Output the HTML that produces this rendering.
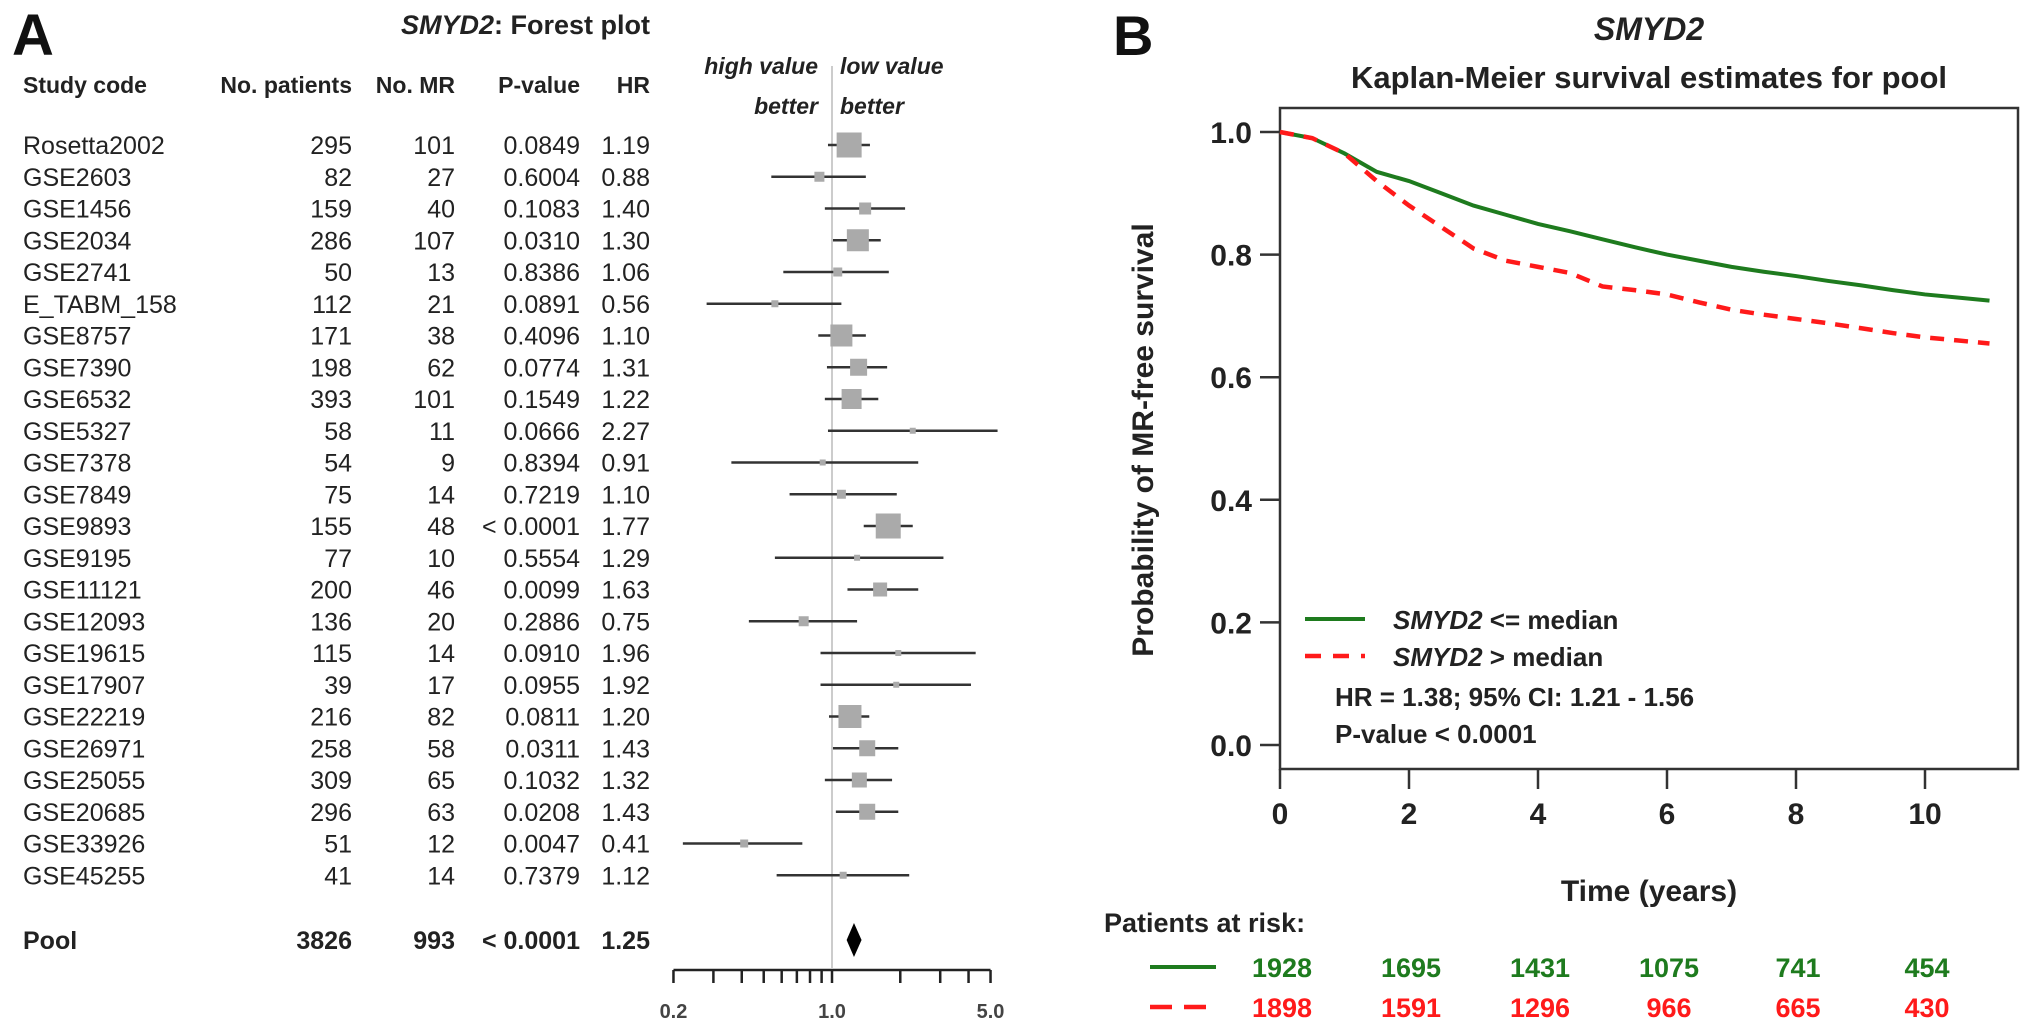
<!DOCTYPE html>
<html><head><meta charset="utf-8"><style>
html,body{margin:0;padding:0;background:#fff}
svg{display:block;font-family:"Liberation Sans",Arial,sans-serif}
</style></head><body>
<svg id="fig" width="2031" height="1031" viewBox="0 0 2031 1031" xmlns="http://www.w3.org/2000/svg">
<g id="forest"></g>
<g id="km"></g>
</svg>
<script>
// ---------- Forest plot data ----------
const studies = ["Rosetta2002","GSE2603","GSE1456","GSE2034","GSE2741","E_TABM_158","GSE8757","GSE7390","GSE6532","GSE5327","GSE7378","GSE7849","GSE9893","GSE9195","GSE11121","GSE12093","GSE19615","GSE17907","GSE22219","GSE26971","GSE25055","GSE20685","GSE33926","GSE45255"];
const nPatients = [295,82,159,286,50,112,171,198,393,58,54,75,155,77,200,136,115,39,216,258,309,296,51,41];
const nMR = [101,27,40,107,13,21,38,62,101,11,9,14,48,10,46,20,14,17,82,58,65,63,12,14];
const pValues = ["0.0849","0.6004","0.1083","0.0310","0.8386","0.0891","0.4096","0.0774","0.1549","0.0666","0.8394","0.7219","< 0.0001","0.5554","0.0099","0.2886","0.0910","0.0955","0.0811","0.0311","0.1032","0.0208","0.0047","0.7379"];
const hr = [1.19,0.88,1.40,1.30,1.06,0.56,1.10,1.31,1.22,2.27,0.91,1.10,1.77,1.29,1.63,0.75,1.96,1.92,1.20,1.43,1.32,1.43,0.41,1.12];
const ciLow = [0.96,0.54,0.93,1.01,0.61,0.28,0.87,0.95,0.93,0.96,0.36,0.65,1.38,0.56,1.17,0.43,0.89,0.89,0.97,1.01,0.93,1.04,0.22,0.57];
const ciHigh = [1.47,1.41,2.10,1.64,1.78,1.10,1.41,1.75,1.60,5.37,2.40,1.93,2.27,3.10,2.40,1.29,4.30,4.10,1.46,1.96,1.84,1.96,0.74,2.19];
const weights = [25,10,12,22,9,7,22,17,20,6,6,9,25,6,14,10,6,6,23,16,15,16,8,7];
const pool = {n:3826, mr:993, p:"< 0.0001", hr:1.25, lo:1.16, hi:1.35};
const forestTicks = [0.2,0.3,0.4,0.5,0.6,0.7,0.8,0.9,1,2,3,4,5];
const forestTickLabels = ["0.2","1.0","5.0"];
const forestLabelVals = [0.2,1,5];

// ---------- KM data ----------
const kmTimes = [0,0.5,1,1.5,2,2.5,3,3.5,4,4.5,5,5.5,6,6.5,7,7.5,8,8.5,9,9.5,10,10.5,11];
const kmLow = [1.0,0.99,0.965,0.935,0.92,0.90,0.88,0.865,0.85,0.838,0.825,0.812,0.80,0.79,0.78,0.772,0.765,0.757,0.75,0.742,0.735,0.73,0.725];
const kmHigh = [1.0,0.99,0.965,0.92,0.88,0.845,0.81,0.79,0.78,0.77,0.748,0.742,0.735,0.722,0.71,0.702,0.695,0.688,0.68,0.672,0.665,0.66,0.655];
const kmXTicks = [0,2,4,6,8,10];
const kmYTicks = [0,0.2,0.4,0.6,0.8,1.0];
const riskLow = [1928,1695,1431,1075,741,454];
const riskHigh = [1898,1591,1296,966,665,430];

const NS="http://www.w3.org/2000/svg";
function mk(parent,tag,attrs,text){const e=document.createElementNS(NS,tag);for(const k in attrs)e.setAttribute(k,attrs[k]);if(text!==undefined)e.textContent=text;parent.appendChild(e);return e;}

// ---------- Forest ----------
const F=document.getElementById('forest');
const fx=v=>832+Math.log(v)*98.5;
const rowY=i=>145+i*31.75;
let t;
t=mk(F,'text',{x:12,y:55,'font-size':58,'font-weight':'bold',fill:'#111'},'A');

t=mk(F,'text',{x:650,y:34,'font-size':27,'font-weight':'bold','text-anchor':'end',fill:'#222'});
t.innerHTML='<tspan font-style="italic">SMYD2</tspan>: Forest plot';

const heads=[["Study code",23,'start','header-study-code'],["No. patients",352,'end','header-no-patients'],["No. MR",455,'end','header-no-mr'],["P-value",580,'end','header-p-value'],["HR",650,'end','header-hr']];
heads.forEach(h=>{const e=mk(F,'text',{x:h[1],y:93,'font-size':23,'font-weight':'bold','text-anchor':h[2],fill:'#222'},h[0]);
});
[["high value",818,74,'end'],["better",818,114,'end'],["low value",840,74,'start'],["better",840,114,'start']].forEach(h=>{
const e=mk(F,'text',{x:h[1],y:h[2],'font-size':23,'font-weight':'bold','font-style':'italic','text-anchor':h[3],fill:'#222'},h[0]);
});
const refLine=mk(F,'line',{x1:fx(1),x2:fx(1),y1:66,y2:968,stroke:'#bbb','stroke-width':1.5});

const xMax=5.37;
studies.forEach((s,i)=>{
  const y=rowY(i);
  const g=mk(F,'g',{});
  
  
  mk(g,'text',{x:23,y:y+9,'font-size':25,fill:'#222'},s);
  mk(g,'text',{x:352,y:y+9,'font-size':25,fill:'#222','text-anchor':'end'},nPatients[i]);
  mk(g,'text',{x:455,y:y+9,'font-size':25,fill:'#222','text-anchor':'end'},nMR[i]);
  mk(g,'text',{x:580,y:y+9,'font-size':25,fill:'#222','text-anchor':'end'},pValues[i]);
  mk(g,'text',{x:650,y:y+9,'font-size':25,fill:'#222','text-anchor':'end'},hr[i].toFixed(2));
  const hiV=Math.min(ciHigh[i],xMax);
  const ci=mk(g,'line',{x1:fx(ciLow[i]),x2:fx(hiV),y1:y,y2:y,stroke:'#333','stroke-width':2.5});
  
  
  if(ciHigh[i]>xMax){
    const a=mk(g,'path',{d:`M${fx(hiV)} ${y} l-12 -5 l0 10 z`,fill:'#333'});
    
    
  }
  const w=weights[i];
  const b=mk(g,'rect',{x:fx(hr[i])-w/2,y:y-w/2,width:w,height:w,fill:'#aaa'});
  
  
});
{
  const y=940;const g=mk(F,'g',{});
  
  
  const a={'font-size':25,'font-weight':'bold',fill:'#222'};
  mk(g,'text',Object.assign({x:23,y:y+9},a),'Pool');
  mk(g,'text',Object.assign({x:352,y:y+9,'text-anchor':'end'},a),pool.n);
  mk(g,'text',Object.assign({x:455,y:y+9,'text-anchor':'end'},a),pool.mr);
  mk(g,'text',Object.assign({x:580,y:y+9,'text-anchor':'end'},a),pool.p);
  mk(g,'text',Object.assign({x:650,y:y+9,'text-anchor':'end'},a),pool.hr.toFixed(2));
  const d=mk(g,'path',{d:`M${fx(pool.lo)} ${y} L${fx(pool.hr)} ${y-17} L${fx(pool.hi)} ${y} L${fx(pool.hr)} ${y+17} Z`,fill:'#000'});
  
  
}
const fax=mk(F,'g',{});

mk(fax,'line',{x1:fx(0.2),x2:fx(5),y1:970,y2:970,stroke:'#222','stroke-width':2.5});
forestTicks.forEach(v=>mk(fax,'line',{x1:fx(v),x2:fx(v),y1:970,y2:983,stroke:'#222','stroke-width':2.5}));
forestLabelVals.forEach((v,i)=>mk(fax,'text',{x:fx(v),y:1018,'font-size':20,'font-weight':'bold',fill:'#444','text-anchor':'middle'},forestTickLabels[i]));

// ---------- KM ----------
const K=document.getElementById('km');
const kx=v=>1280+v*64.5;
const ky=v=>745-v*613;
t=mk(K,'text',{x:1113,y:55,'font-size':56,'font-weight':'bold',fill:'#111'},'B');

t=mk(K,'text',{x:1649,y:40,'font-size':32,'font-weight':'bold','font-style':'italic','text-anchor':'middle',fill:'#222'},'SMYD2');

t=mk(K,'text',{x:1649,y:88,'font-size':31,'font-weight':'bold','text-anchor':'middle',fill:'#222'},'Kaplan-Meier survival estimates for pool');

const box=mk(K,'rect',{x:1280,y:108,width:738,height:661,fill:'none',stroke:'#333','stroke-width':2.5});

const yax=mk(K,'g',{});
kmYTicks.forEach(v=>{mk(yax,'line',{x1:1260,x2:1280,y1:ky(v),y2:ky(v),stroke:'#333','stroke-width':2.5});
mk(yax,'text',{x:1252,y:ky(v)+11,'font-size':30,'font-weight':'bold','text-anchor':'end',fill:'#222'},v.toFixed(1));});
t=mk(K,'text',{x:1153,y:440,'font-size':30,'font-weight':'bold','text-anchor':'middle',fill:'#222',transform:'rotate(-90 1153 440)'},'Probability of MR-free survival');

const xax=mk(K,'g',{});
kmXTicks.forEach(v=>{mk(xax,'line',{x1:kx(v),x2:kx(v),y1:769,y2:789,stroke:'#333','stroke-width':2.5});
mk(xax,'text',{x:kx(v),y:824,'font-size':30,'font-weight':'bold','text-anchor':'middle',fill:'#222'},v);});
t=mk(K,'text',{x:1649,y:901,'font-size':30,'font-weight':'bold','text-anchor':'middle',fill:'#222'},'Time (years)');

function pts(arr){return kmTimes.map((tt,i)=>kx(tt)+','+ky(arr[i])).join(' ');}
const gl=mk(K,'polyline',{points:pts(kmLow),fill:'none',stroke:'#1e7b1e','stroke-width':4});

const rl=mk(K,'polyline',{points:pts(kmHigh),fill:'none',stroke:'#ff1a1a','stroke-width':4.5,'stroke-dasharray':'14 10'});

// legend
const lg=mk(K,'g',{});
mk(lg,'line',{x1:1305,x2:1365,y1:619,y2:619,stroke:'#1e7b1e','stroke-width':4});
mk(lg,'line',{x1:1305,x2:1365,y1:656,y2:656,stroke:'#ff1a1a','stroke-width':4.5,'stroke-dasharray':'16 12'});
mk(lg,'text',{x:1393,y:629,'font-size':26,'font-weight':'bold',fill:'#222'}).innerHTML='<tspan font-style="italic">SMYD2</tspan> &lt;= median';
mk(lg,'text',{x:1393,y:666,'font-size':26,'font-weight':'bold',fill:'#222'}).innerHTML='<tspan font-style="italic">SMYD2</tspan> &gt; median';
t=mk(K,'text',{x:1335,y:706,'font-size':26,'font-weight':'bold',fill:'#222'},'HR = 1.38; 95% CI: 1.21 - 1.56');

t=mk(K,'text',{x:1335,y:743,'font-size':26,'font-weight':'bold',fill:'#222'},'P-value < 0.0001');

// risk table
const rt=mk(K,'g',{});
mk(rt,'text',{x:1104,y:932,'font-size':27,'font-weight':'bold',fill:'#222'},'Patients at risk:');
mk(rt,'line',{x1:1150,x2:1216,y1:967,y2:967,stroke:'#1e7b1e','stroke-width':4});
mk(rt,'line',{x1:1150,x2:1206,y1:1007,y2:1007,stroke:'#ff1a1a','stroke-width':4.5,'stroke-dasharray':'22 12'});
kmXTicks.forEach((v,i)=>{
mk(rt,'text',{x:kx(v)+2,y:977,'font-size':27,'font-weight':'bold','text-anchor':'middle',fill:'#1e7b1e'},riskLow[i]);
mk(rt,'text',{x:kx(v)+2,y:1017,'font-size':27,'font-weight':'bold','text-anchor':'middle',fill:'#ff1a1a'},riskHigh[i]);});
</script>
</body></html>
